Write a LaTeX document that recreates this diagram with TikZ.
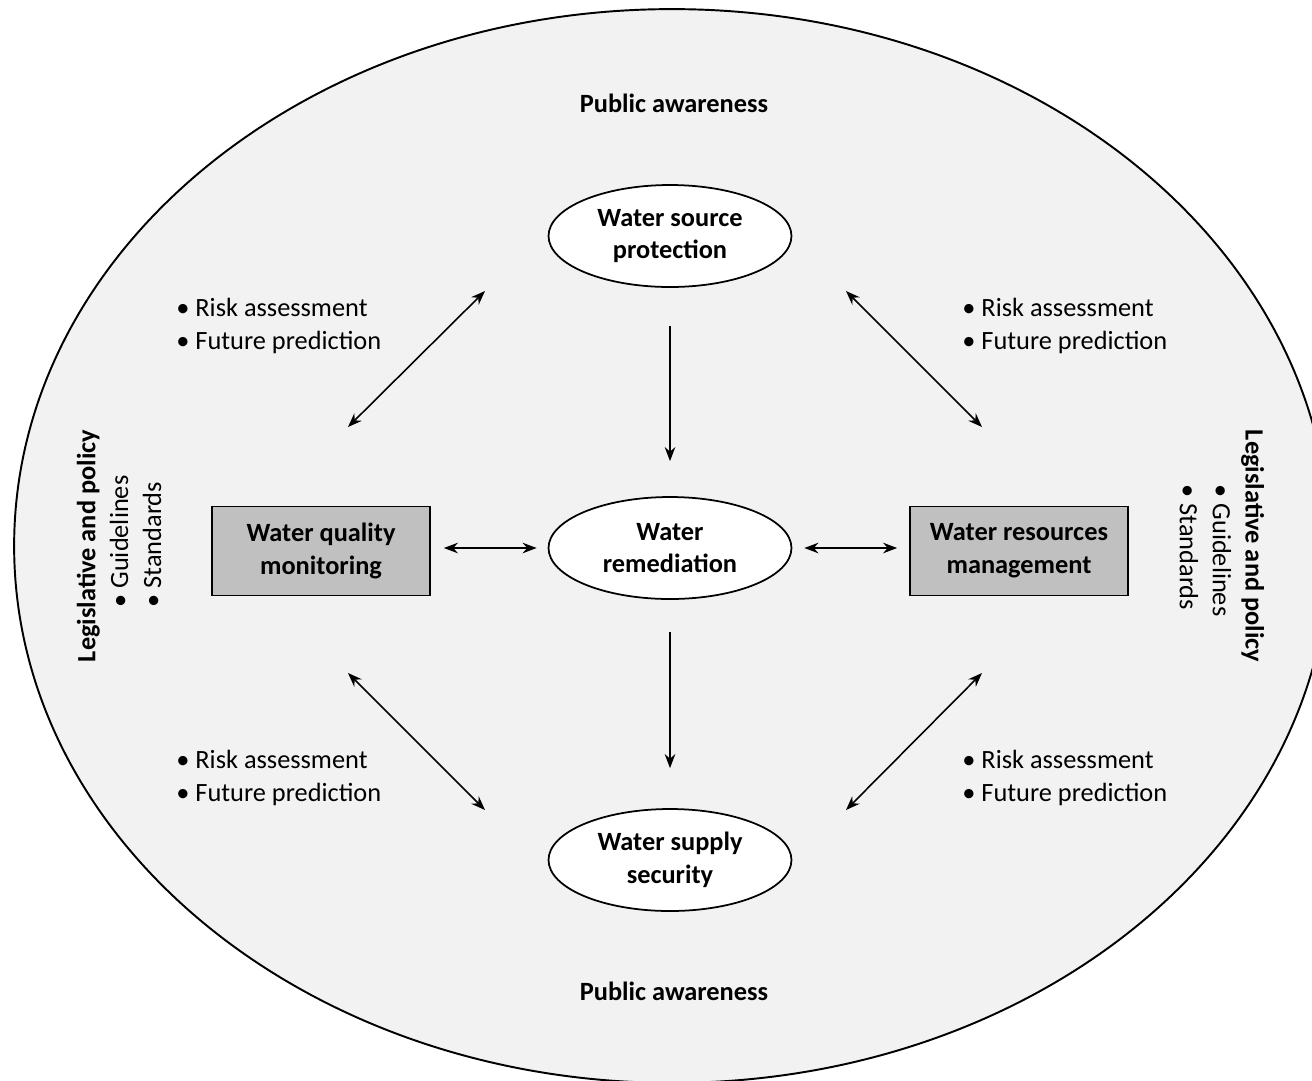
\documentclass[tikz,border=0pt]{standalone}
\usepackage{fontspec}
\setmainfont{Carlito}
\usetikzlibrary{shapes.geometric, arrows.meta}
\definecolor{outergray}{HTML}{F2F2F2}
\definecolor{boxgray}{HTML}{C0C0C0}

\begin{document}
\begin{tikzpicture}[x=0.02cm, y=-0.02cm,
        every node/.style={font=\fontsize{15}{18.7}\selectfont},
        stage/.style={ellipse, draw, line width=1pt, fill=white, minimum width=4.86cm,
            minimum height=2.04cm, inner sep=0pt, align=center, font=\fontsize{15}{18.7}\selectfont\bfseries},
        toolbox/.style={rectangle, draw, line width=1pt, fill=boxgray, minimum width=4.36cm,
            minimum height=1.78cm, inner sep=0pt, align=center, font=\fontsize{15}{18.7}\selectfont\bfseries},
        flow/.style={-{Stealth[length=8pt, width=6pt]}, line width=0.9pt},
        link/.style={{Stealth[length=8pt, width=6pt]}-{Stealth[length=8pt, width=6pt]}, line width=0.9pt},
        note/.style={align=left, anchor=west, inner sep=0pt}]
    \useasboundingbox (0,0) rectangle (1312,1080);
    \draw[line width=1.1pt, fill=outergray] (672,546) ellipse [x radius=13.16cm, y radius=10.74cm];

    % public awareness
    \node[font=\fontsize{15}{18.7}\selectfont\bfseries] (pubT) at (674,103) {Public awareness};
    \node[font=\fontsize{15}{18.7}\selectfont\bfseries] (pubB) at (674,991) {Public awareness};

    % main stages
    \node[stage] (wsp) at (670,236) {Water source\\protection};
    \node[stage] (wrem) at (670,548) {Water\\remediation};
    \node[stage] (wss) at (670,860) {Water supply\\security};
    \node[toolbox] (wqm) at (321,551) {Water quality\\monitoring};
    \node[toolbox] (wrm) at (1019,551) {Water resources\\management};

    % legislative and policy
    \node[rotate=90, align=left, inner sep=0pt] (lawL) at (119,546)
        {\textbf{Legislative and policy}\\\hspace*{31pt}• Guidelines\\\hspace*{31pt}• Standards};
    \node[rotate=-90, align=left, inner sep=0pt] (lawR) at (1222,546)
        {\textbf{Legislative and policy}\\\hspace*{31pt}• Guidelines\\\hspace*{31pt}• Standards};

    % risk notes
    \node[note] (riskTL) at (176,326) {• Risk assessment\\• Future prediction};
    \node[note] (riskTR) at (962,326) {• Risk assessment\\• Future prediction};
    \node[note] (riskBL) at (176,778) {• Risk assessment\\• Future prediction};
    \node[note] (riskBR) at (962,778) {• Risk assessment\\• Future prediction};

    % arrows
    \draw[flow, shorten <=0.76cm, shorten >=0.7cm] (wsp) -- (wrem);
    \draw[flow, shorten <=0.64cm, shorten >=0.8cm] (wrem) -- (wss);
    \draw[link, shorten <=0.26cm, shorten >=0.22cm] (wqm.east |- wrem.west) -- (wrem.west);
    \draw[link, shorten <=0.24cm, shorten >=0.24cm] (wrem.east) -- (wrm.west |- wrem.east);

    \coordinate (a1) at (348,427); \coordinate (b1) at (485,291);
    \coordinate (a2) at (982,427); \coordinate (b2) at (846,291);
    \coordinate (a3) at (348,673); \coordinate (b3) at (485,810);
    \coordinate (a4) at (982,673); \coordinate (b4) at (846,810);
    \foreach \i in {1,...,4}
        \draw[link] (a\i) -- (b\i);
\end{tikzpicture}
\end{document}
